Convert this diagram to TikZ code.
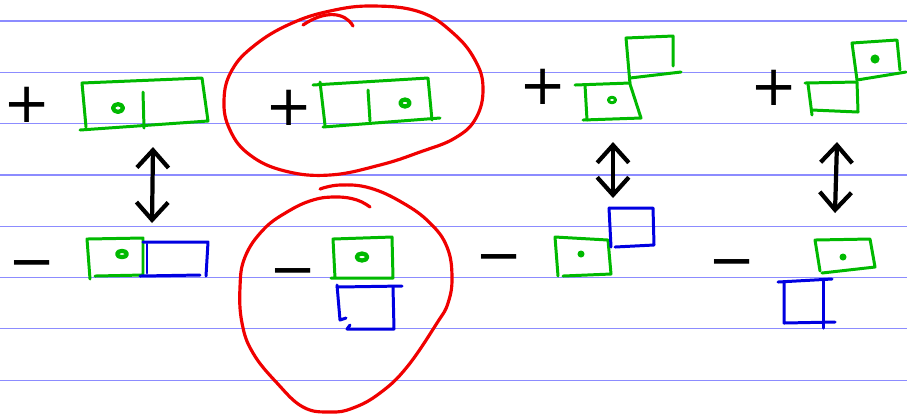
\documentclass[tikz,border=0pt]{standalone}
\usepackage{fontspec}
\newfontfamily\signfont{DejaVu Sans}
\usetikzlibrary{arrows.meta}
\definecolor{ruleblue}{RGB}{140,140,255}
\definecolor{penred}{RGB}{240,0,0}
\definecolor{pengreen}{RGB}{0,185,0}
\definecolor{penblue}{RGB}{0,0,225}

\begin{document}
\begin{tikzpicture}[x=0.01cm, y=-0.01cm, line cap=round, line join=round,
    ruled/.style={ruleblue, line width=0.35pt},
    gbox/.style={pengreen, line width=0.85pt},
    bbox/.style={penblue, line width=0.85pt},
    ring/.style={penred, line width=0.9pt},
    flip/.style={line width=1.2pt, {Straight Barb[length=5pt,width=9pt]}-{Straight Barb[length=5pt,width=9pt]}},
    pmsign/.style={font=\signfont\fontsize{16}{16}\selectfont, inner sep=0pt, anchor=mid}]
    \useasboundingbox (0,0) rectangle (907,417);
    \fill[white] (0,0) rectangle (907,417);
    % Ruled paper
    \foreach \k in {0,...,7} {
      \draw[ruled] (0,{21+51.3*\k}) -- (907,{21+51.3*\k});
    }
    % Signs
    \node[pmsign] (p1) at (27,115) {+};
    \node[pmsign] (p2) at (289,118) {+};
    \node[pmsign] (p3) at (543,97) {+};
    \node[pmsign] (p4) at (774,98) {+};
    \node[pmsign] (m1) at (32,273) {−};
    \node[pmsign] (m2) at (293,281) {−};
    \node[pmsign] (m3) at (499,267) {−};
    \node[pmsign] (m4) at (732,272) {−};
    % Plus row: green dimers
    \draw[gbox] (86,127) -- (82,83) -- (202,78) -- (208,121) -- (80,130);
    \draw[gbox] (143,92) -- (144,128);
    \draw[gbox, line width=1.2pt] (118,108) circle[x radius=1.4pt, y radius=1.1pt];
    \draw[gbox] (313,85) -- (428,78) -- (432,120);
    \draw[gbox] (320,82) -- (325,125);
    \draw[gbox] (323,127) -- (440,118);
    \draw[gbox] (368,90) -- (370,121);
    \draw[gbox, line width=1.2pt] (405,103) circle[x radius=1.3pt, y radius=1pt];
    \draw[gbox] (673,66) -- (673,36) -- (626,38) -- (630,84) -- (641,118) -- (583,120);
    \draw[gbox] (630,78) -- (681,72);
    \draw[gbox] (575,85) -- (630,83);
    \draw[gbox] (585,85) -- (587,120);
    \draw[gbox] (612,100) circle[x radius=1pt, y radius=0.8pt];
    \draw[gbox] (805,83) -- (857,82) -- (858,112) -- (812,110);
    \draw[gbox] (808,84) -- (812,115);
    \draw[gbox] (857,80) -- (852,43) -- (897,40) -- (900,70);
    \draw[gbox] (857,80) -- (906,72);
    \fill[pengreen] (875,59) circle[radius=1.3pt];
    % Minus row: green and blue pairs
    \draw[gbox] (95,276) -- (143,275) -- (143,238) -- (87,239) -- (90,279);
    \draw[gbox, line width=1.2pt] (122,254) circle[x radius=1.4pt, y radius=0.9pt];
    \draw[bbox] (143,242) -- (208,242) -- (206,276);
    \draw[bbox] (140,276) -- (200,275);
    \draw[bbox] (147,244) -- (147,273);
    \draw[gbox] (331,278) -- (393,278) -- (392,237) -- (333,239) -- (335,278);
    \draw[gbox, line width=1.2pt] (362,257) circle[x radius=1.5pt, y radius=1pt];
    \draw[bbox] (337,287) -- (402,286);
    \draw[bbox] (337,285) -- (340,320) -- (346,318);
    \draw[bbox] (393,287) -- (394,329) -- (347,329) -- (350,325);
    \draw[gbox] (563,276) -- (611,274) -- (608,240) -- (555,237) -- (558,276);
    \fill[pengreen] (581,254) circle[radius=1pt];
    \draw[bbox] (609,208) -- (653,208) -- (654,245) -- (615,247);
    \draw[bbox] (609,208) -- (611,247);
    \draw[gbox] (822,273) -- (875,267) -- (870,239) -- (815,240) -- (820,271);
    \fill[pengreen] (843,257) circle[radius=1pt];
    \draw[bbox] (778,282) -- (832,279);
    \draw[bbox] (784,282) -- (784,323) -- (835,322);
    \draw[bbox] (823,280) -- (823,328);
    % Double arrows between the rows
    \coordinate (up1) at (153,147);
    \coordinate (dn1) at (152,223);
    \coordinate (up2) at (613,142);
    \coordinate (dn2) at (613,198);
    \coordinate (up3) at (837,142);
    \coordinate (dn3) at (835,213);
    \draw[flip] (up1) -- (dn1);
    \draw[flip] (up2) -- (dn2);
    \draw[flip] (up3) -- (dn3);
    % Red rings
    \draw[ring] plot[smooth cycle, tension=0.7] coordinates {(373,6) (420,12) (453,33) (475,60) (483,88) (476,118) (455,138) (420,152) (380,165) (330,175) (285,171) (250,155) (230,130) (224,100) (232,70) (255,45) (290,24) (330,11)};
    \draw[ring] (303,25) .. controls (325,10) and (345,12) .. (353,26);
    \draw[ring] plot[smooth, tension=0.7] coordinates {(320,189) (340,185) (370,188) (403,203) (430,223) (447,247) (452,277) (448,303) (437,323) (407,367) (380,393) (353,408) (330,412) (303,407) (277,383) (253,353) (242,323) (240,287) (245,257) (263,230) (287,212) (313,200) (337,197) (357,200) (370,207)};
\end{tikzpicture}
\end{document}
